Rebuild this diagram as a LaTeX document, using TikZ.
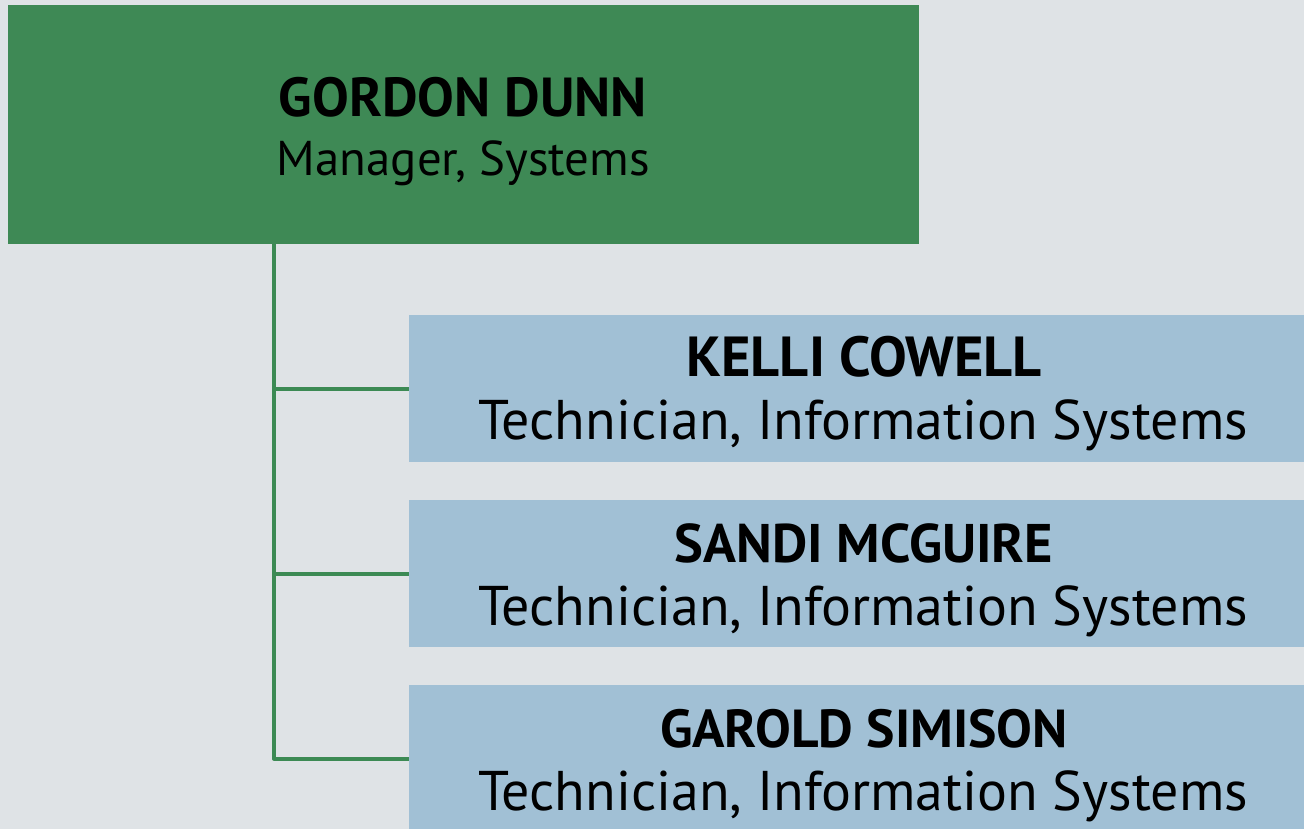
\documentclass[tikz,border=0pt]{standalone}
\usepackage{fontspec}
\setmainfont{PT Sans}
\usepackage{graphicx}
\definecolor{bgc}{RGB}{223,227,230}
\definecolor{mgr}{RGB}{62,137,85}
\definecolor{staff}{RGB}{161,192,213}
\definecolor{conn}{RGB}{60,138,84}
\tikzset{
  mgrbox/.style={fill=mgr, draw=none, inner sep=0pt, minimum width=911pt, minimum height=239pt},
  staffbox/.style={fill=staff, draw=none, inner sep=0pt, minimum width=910pt, minimum height=147pt},
  txt/.style={inner sep=0pt, anchor=base, text=black},
  link/.style={draw=conn, line width=4pt, line join=round}
}
\newcommand{\fitto}[2]{\resizebox{#1}{!}{\fontsize{50pt}{60pt}\selectfont #2}}
\begin{document}
\begin{tikzpicture}[x=1pt,y=-1pt]
\clip (0,0) rectangle (1304,829);
\fill[bgc] (0,0) rectangle (1304,829);
\node[mgrbox] (gordon) at (463.5,124.5) {};
\node[staffbox] (kelli) at (864,388.5) {};
\node[staffbox] (sandi) at (864,573.5) {};
\node[staffbox] (garold) at (864,758.5) {};
\coordinate (tx) at (274,0);
\draw[link] (gordon.south -| tx) |- (garold.west);
\draw[link] (gordon.south -| tx) |- (sandi.west);
\draw[link] (gordon.south -| tx) |- (kelli.west);
\node[txt] (gname) at (463,117) {\fitto{368pt}{\bfseries GORDON DUNN}};
\node[txt] (gtitle) at (463.5,176) {\fitto{373pt}{Manager, Systems}};
\node[txt] (kname) at (864,376) {\fitto{355pt}{\bfseries KELLI COWELL}};
\node[txt] (ktitle) at (863,439) {\fitto{770pt}{Technician, Information Systems}};
\node[txt] (sname) at (864,562) {\fitto{378pt}{\bfseries SANDI MCGUIRE}};
\node[txt] (stitle) at (863,625) {\fitto{770pt}{Technician, Information Systems}};
\node[txt] (oname) at (864,747) {\fitto{408pt}{\bfseries GAROLD SIMISON}};
\node[txt] (otitle) at (863,810) {\fitto{770pt}{Technician, Information Systems}};
\end{tikzpicture}
\end{document}
